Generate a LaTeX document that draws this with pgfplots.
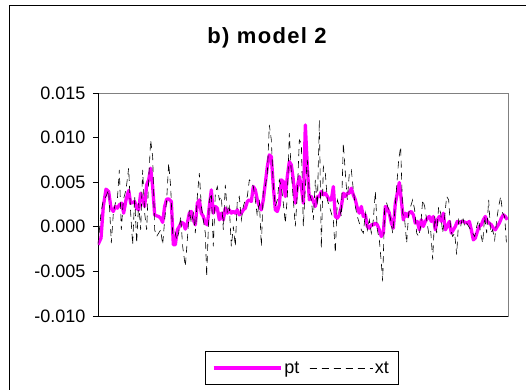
\documentclass[border=0pt]{standalone}
\usepackage{fontspec}
\setmainfont{Liberation Sans}
\usepackage{pgfplots}
\usepackage{pgfplotstable}
\pgfplotsset{compat=1.18}
\definecolor{ptcol}{RGB}{255,0,255}
\definecolor{framegray}{RGB}{128,128,128}

\pgfplotstableread{
x y
294 -0.00201
303 -0.00127
310 0.00228
318 0.00422
326 0.00396
333 0.00209
340 0.00172
346 0.00228
352 0.00209
358 0.00246
365 0.00265
371 0.00153
378 0.00302
386 0.00407
392 0.00265
398 0.00272
404 0.00284
410 0.00209
416 0.00190
422 0.00377
428 0.00302
434 0.00228
440 0.00470
446 0.00526
452 0.00657
458 0.00451
464 0.00134
470 0.00123
476 0.00116
482 0.00097
488 0.00049
494 0.00228
500 0.00310
507 0.00310
514 0.00284
520 -0.00201
526 -0.00201
532 -0.00034
538 0.00004
544 0.00049
550 0.00041
556 -0.00026
562 0.00041
568 0.00153
574 0.00172
580 0.00078
586 0.00022
592 0.00265
598 0.00302
604 0.00153
610 0.00116
616 0.00041
622 0.00022
628 0.00228
634 0.00414
640 0.00153
646 0.00228
652 0.00209
658 0.00078
664 0.00153
670 0.00078
676 0.00209
682 0.00153
688 0.00190
694 0.00153
700 0.00172
706 0.00153
712 0.00190
718 0.00134
724 0.00153
730 0.00190
736 0.00209
742 0.00284
748 0.00302
754 0.00284
760 0.00451
766 0.00414
772 0.00302
778 0.00228
784 0.00190
790 0.00302
796 0.00489
802 0.00675
808 0.00806
814 0.00787
820 0.00451
826 0.00190
832 0.00172
838 0.00246
844 0.00526
850 0.00507
856 0.00340
862 0.00563
868 0.00731
874 0.00694
880 0.00526
886 0.00265
892 0.00451
898 0.00563
904 0.00451
910 0.00265
916 0.01142
922 0.00675
928 0.00302
934 0.00340
940 0.00284
946 0.00228
952 0.00340
958 0.00340
964 0.00396
970 0.00358
976 0.00377
982 0.00340
988 0.00302
994 0.00302
1000 0.00451
1006 0.00116
1012 0.00097
1018 0.00134
1024 0.00228
1030 0.00377
1036 0.00340
1042 0.00377
1048 0.00377
1054 0.00433
1060 0.00358
1066 0.00302
1072 0.00209
1078 0.00153
1084 0.00228
1090 0.00116
1096 0.00134
1102 0.00004
1108 -0.00015
1114 0.00022
1120 0.00022
1126 0.00041
1132 0.00022
1138 -0.00034
1144 -0.00108
1150 -0.00071
1156 0.00228
1162 0.00209
1168 0.00153
1174 0.00041
1180 -0.00015
1186 0.00265
1192 0.00377
1198 0.00496
1204 0.00302
1210 0.00078
1216 0.00153
1222 0.00116
1228 0.00160
1234 0.00172
1240 0.00134
1246 0.00041
1252 0.00060
1258 -0.00034
1264 0.00078
1270 0.00004
1276 0.00060
1282 0.00097
1288 0.00116
1294 0.00060
1300 0.00116
1306 -0.00034
1312 0.00078
1318 0.00116
1324 0.00060
1330 0.00153
1336 -0.00034
1342 0.00004
1348 0.00060
1354 -0.00071
1360 -0.00034
1366 0.00004
1372 0.00060
1378 0.00041
1384 0.00060
1390 0.00060
1396 0.00049
1402 0.00041
1408 0.00060
1414 -0.00034
1420 -0.00146
1426 -0.00127
1432 -0.00052
1438 0.00004
1444 0.00022
1450 0.00078
1456 0.00116
1462 0.00060
1468 0.00041
1474 0.00022
1480 -0.00015
1486 -0.00034
1492 0.00004
1498 0.00041
1504 0.00097
1510 0.00134
1516 0.00116
1522 0.00078
}\pttable

\pgfplotstableread{
x y
294 -0.00201
303 0.00153
310 0.00302
318 0.00340
326 0.00414
334 -0.00183
340 0.00153
346 0.00265
352 0.00302
358 0.00638
364 -0.00034
370 0.00302
378 0.00414
386 0.00657
392 0.00153
398 -0.00201
404 0.00340
410 -0.00183
416 0.00265
422 -0.00034
428 0.00638
434 0.00153
440 -0.00034
446 0.00526
452 0.00974
458 0.00787
464 -0.00034
470 -0.00108
476 -0.00071
482 -0.00034
488 -0.00201
494 0.00078
500 0.00302
506 0.00713
512 0.00451
518 -0.00071
524 -0.00034
530 -0.00146
536 -0.00071
542 0.00116
548 -0.00220
556 -0.00444
562 -0.00146
568 0.00190
574 0.00041
580 0.00153
586 -0.00071
592 0.00340
598 0.00601
604 0.00228
610 0.00078
616 -0.00071
620 -0.00556
628 0.00302
634 0.00377
640 -0.00220
646 0.00377
652 0.00451
658 0.00302
664 0.00340
670 -0.00034
676 0.00470
682 0.00153
688 0.00228
694 -0.00220
700 0.00004
706 -0.00220
712 0.00302
718 0.00340
724 0.00078
730 0.00228
736 0.00302
742 0.00340
748 0.00526
754 0.00507
760 0.00451
766 0.00302
772 0.00116
778 0.00302
784 -0.00220
790 0.00414
796 0.00451
802 0.00601
808 0.01142
814 0.00974
820 0.00451
826 0.00228
832 0.00302
838 0.00526
844 0.00451
850 0.00265
856 0.00041
862 0.00340
868 0.01049
874 0.00601
880 0.00302
886 0.00004
892 0.00377
898 0.00974
904 0.00937
910 0.00004
916 0.00451
922 0.00750
928 0.00377
934 0.00302
940 0.00078
946 0.00526
952 0.00228
958 0.01198
964 -0.00239
970 0.00675
976 0.00601
982 0.00302
988 0.00228
994 0.00153
1000 0.00078
1006 -0.00295
1012 0.00302
1018 0.00228
1024 0.00116
1030 0.00937
1036 0.00601
1042 0.00302
1048 0.00601
1054 0.00638
1060 0.00414
1066 0.00228
1072 0.00116
1078 0.00041
1084 -0.00034
1090 -0.00071
1096 0.00153
1102 -0.00034
1108 0.00078
1114 -0.00071
1120 0.00078
1126 0.00396
1132 -0.00034
1138 -0.00146
1144 -0.00407
1148 -0.00612
1154 0.00228
1160 0.00265
1166 0.00190
1172 0.00078
1178 -0.00071
1184 0.00153
1190 0.00451
1196 0.00750
1202 0.00899
1208 0.00153
1214 0.00078
1220 -0.00183
1226 0.00153
1232 0.00228
1238 0.00302
1244 0.00190
1250 -0.00071
1256 -0.00108
1262 0.00004
1268 0.00302
1274 0.00228
1280 0.00078
1286 -0.00071
1292 -0.00034
1298 -0.00369
1304 0.00116
1310 -0.00071
1316 0.00228
1322 0.00153
1328 -0.00071
1334 0.00116
1340 0.00340
1346 0.00302
1352 -0.00034
1358 -0.00108
1364 -0.00071
1370 -0.00313
1376 0.00078
1382 0.00004
1388 0.00116
1394 0.00004
1400 0.00041
1406 0.00004
1412 -0.00034
1418 -0.00071
1424 -0.00108
1430 0.00004
1436 0.00078
1442 -0.00071
1448 -0.00183
1454 0.00116
1460 -0.00071
1466 0.00302
1472 -0.00071
1478 -0.00034
1484 -0.00146
1490 0.00078
1496 0.00228
1502 0.00340
1508 0.00153
1514 0.00116
1520 -0.00220
}\xttable

\begin{document}
\begin{tikzpicture}
\begin{axis}[
  scale only axis, width=410bp, height=223bp,
  xmin=294, xmax=1524, ymin=-0.010, ymax=0.015,
  axis lines=left,
  axis line style={-, black, line width=0.9bp},
  axis background/.style={draw=framegray, line width=0.9bp},
  xtick=\empty,
  ytick={-0.010,-0.005,0,0.005,0.010,0.015},
  tick align=outside, major tick length=5bp,
  tick style={black, line width=0.9bp},
  scaled y ticks=false,
  /pgf/number format/fixed,
  /pgf/number format/fixed zerofill,
  /pgf/number format/precision=3,
  /pgf/number format/assume math mode=true,
  yticklabel shift=4bp,
  ticklabel style={font=\fontsize{18bp}{21bp}\selectfont},
  legend columns=2,
  legend style={at={(axis description cs:0.4963,-0.2332)}, anchor=center,
    draw=black, line width=0.8bp, font=\fontsize{18bp}{21bp}\selectfont,
    inner xsep=7bp, inner ysep=8bp,
    /tikz/every even column/.append style={column sep=8bp}},
]
\addplot[ptcol, line width=3.3bp, line join=round,
  legend image code/.code={\draw[ptcol, line width=3.3bp] (0bp,0bp) -- (67bp,0bp);}]
  table {\pttable};
\addlegendentry{pt}
\addplot[black, line width=0.6bp, dash pattern=on 7bp off 5bp,
  legend image code/.code={\draw[black, line width=0.6bp, dash pattern=on 7bp off 5bp] (0bp,0bp) -- (55bp,0bp);\path (0bp,0bp) -- (63bp,0bp);}]
  table {\xttable};
\addlegendentry{xt}
\end{axis}
\node[anchor=base, font=\fontsize{22bp}{26bp}\selectfont\bfseries\addfontfeature{LetterSpace=6}] at (169bp,272.7bp) {b) model 2};
\draw[black, line width=1bp] (430bp,310bp) -- (-88bp,310bp) -- (-88bp,-80bp);
\pgfresetboundingbox
\path[use as bounding box] (-98bp,-74bp) rectangle (428bp,316bp);
\end{tikzpicture}
\end{document}
